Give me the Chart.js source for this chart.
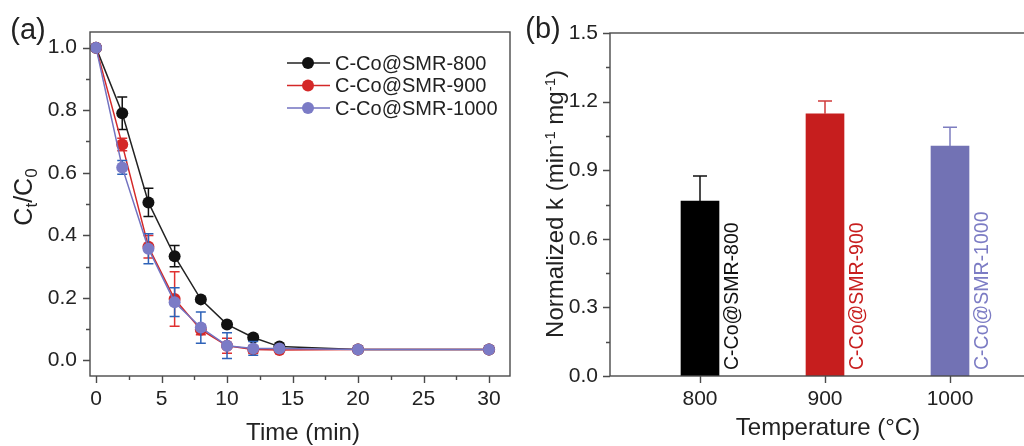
<!DOCTYPE html>
<html>
<head>
<meta charset="utf-8">
<script src="https://cdn.jsdelivr.net/npm/chart.js@4.4.1/dist/chart.umd.min.js"></script>
<style>
  body { margin: 0; width: 1024px; height: 446px; overflow: hidden; position: relative; background: #fff;
         font-family: "Liberation Sans", Arial, sans-serif; color: #222; }
  .panel { position: absolute; top: 0; }
  .txt { position: absolute; white-space: nowrap; line-height: 1; transform: translate(-50%, -50%); }
  .rot { transform: translate(-50%, -50%) rotate(-90deg); }
  .sub { font-size: 0.68em; position: relative; top: 0.32em; }
  .sup { font-size: 0.62em; position: relative; top: -0.55em; }
</style>
</head>
<body>
<div class="panel" style="left:0;width:520px;height:446px"><canvas id="ca" width="520" height="446" style="width:520px;height:446px"></canvas></div>
<div class="panel" style="left:520px;width:540px;height:446px"><canvas id="cb" width="540" height="446" style="width:540px;height:446px"></canvas></div>

<div class="txt" style="left:28px;top:29px;font-size:29px">(a)</div>
<div class="txt" style="left:543px;top:28px;font-size:29px">(b)</div>
<div class="txt" style="left:303px;top:432px;font-size:24px">Time (min)</div>
<div class="txt" style="left:828px;top:427px;font-size:24px">Temperature (°C)</div>
<div class="txt rot" style="left:23px;top:197px;font-size:25px">C<span class="sub">t</span>/C<span class="sub">0</span></div>
<div class="txt rot" style="left:555px;top:204px;font-size:24px">Normalized k (min<span class="sup">-1</span> mg<span class="sup">-1</span>)</div>

<script>
// ---- panel (a): Ct/C0 vs time ----
const times = [0, 2, 4, 6, 8, 10, 12, 14, 20, 30];
const ct800  = [1.0, 0.79, 0.505, 0.333, 0.195, 0.115, 0.073, 0.044, 0.035, 0.035];
const err800 = [0, 0.052, 0.045, 0.034, 0.008, 0.008, 0.008, 0.006, 0.004, 0.004];
const ct900  = [1.0, 0.69, 0.363, 0.196, 0.098, 0.047, 0.035, 0.033, 0.035, 0.035];
const err900 = [0, 0.02, 0.036, 0.087, 0.016, 0.024, 0.012, 0.005, 0.004, 0.004];
const ct1000  = [1.0, 0.617, 0.357, 0.186, 0.105, 0.047, 0.038, 0.038, 0.035, 0.035];
const err1000 = [0, 0.022, 0.048, 0.046, 0.05, 0.041, 0.022, 0.007, 0.004, 0.004];
const seriesNames = ['C-Co@SMR-800', 'C-Co@SMR-900', 'C-Co@SMR-1000'];

const xTicksA = [0, 5, 10, 15, 20, 25, 30];
const xMinorA = [2.5, 7.5, 12.5, 17.5, 22.5, 27.5];
const yTicksA = [0, 0.2, 0.4, 0.6, 0.8, 1.0];
const yMinorA = [0.1, 0.3, 0.5, 0.7, 0.9];

// ---- panel (b): normalized k ----
const temps = [800, 900, 1000];
const kValues = [0.765, 1.147, 1.006];
const kErrors = [0.11, 0.056, 0.082];
const barNames = ['C-Co@SMR-800', 'C-Co@SMR-900', 'C-Co@SMR-1000'];
const yTicksB = [0, 0.3, 0.6, 0.9, 1.2, 1.5];
const yMinorB = [0.15, 0.45, 0.75, 1.05, 1.35];

const FONT = '"Liberation Sans", Arial, sans-serif';
const INK = '#222';
const TICK_SIZE = 21;

/* frame + outward major/minor ticks, drawn through the chart's scales */
const frame = {
  id: 'frame',
  afterDraw(chart, args, o) {
    const { ctx, chartArea: a, scales: { x, y } } = chart;
    ctx.save();
    ctx.strokeStyle = '#4a4a4a';
    ctx.lineWidth = 1.4;
    ctx.strokeRect(a.left, a.top, a.right - a.left, a.bottom - a.top);
    ctx.beginPath();
    const xt = (vals, len) => vals.forEach(v => {
      const p = Math.round(x.getPixelForValue(v)) + 0.5;
      ctx.moveTo(p, a.bottom); ctx.lineTo(p, a.bottom + len);
    });
    const yt = (vals, len) => vals.forEach(v => {
      const p = Math.round(y.getPixelForValue(v)) + 0.5;
      ctx.moveTo(a.left, p); ctx.lineTo(a.left - len, p);
    });
    xt(o.xMajor || [], 7); xt(o.xMinor || [], 4);
    yt(o.yMajor || [], 7); yt(o.yMinor || [], 4);
    ctx.stroke();
    ctx.restore();
  }
};

/* symmetric error bars under each line dataset */
const errorBars = {
  id: 'errorBars',
  beforeDatasetDraw(chart, args, o) {
    const errs = o.errors[args.index];
    if (!errs) return;
    const { ctx, scales: { x, y } } = chart;
    const ds = chart.data.datasets[args.index];
    ctx.save();
    ctx.strokeStyle = o.colors[args.index];
    ctx.lineWidth = 1.5;
    ctx.beginPath();
    ds.data.forEach((d, j) => {
      const e = errs[j];
      if (!e) return;
      const px = x.getPixelForValue(d.x);
      const hi = y.getPixelForValue(d.y + e), lo = y.getPixelForValue(d.y - e);
      ctx.moveTo(px, hi); ctx.lineTo(px, lo);
      ctx.moveTo(px - 5, hi); ctx.lineTo(px + 5, hi);
      ctx.moveTo(px - 5, lo); ctx.lineTo(px + 5, lo);
    });
    ctx.stroke();
    ctx.restore();
  }
};

/* line + marker legend */
const lineLegend = {
  id: 'lineLegend',
  afterDraw(chart, args, o) {
    const ctx = chart.ctx;
    ctx.save();
    chart.data.datasets.forEach((ds, i) => {
      const yy = o.y + i * o.gap;
      ctx.strokeStyle = ds.borderColor;
      ctx.lineWidth = 1.5;
      ctx.beginPath(); ctx.moveTo(o.x, yy); ctx.lineTo(o.x + 43, yy); ctx.stroke();
      ctx.fillStyle = ds.pointBackgroundColor;
      ctx.beginPath(); ctx.arc(o.x + 21, yy, 6, 0, Math.PI * 2); ctx.fill();
      ctx.fillStyle = INK;
      ctx.font = '20px ' + FONT;
      ctx.textBaseline = 'middle';
      ctx.fillText(ds.label, o.x + 48, yy + 1);
    });
    ctx.restore();
  }
};

const fixedTicks = vals => scale => { scale.ticks = vals.map(v => ({ value: v })); };

const mkLine = (label, vals, color, line, order) => ({
  label, order,
  data: times.map((t, j) => ({ x: t, y: vals[j] })),
  borderColor: line, borderWidth: 1.5,
  pointBackgroundColor: color, pointBorderWidth: 0, pointRadius: 6, pointHoverRadius: 6
});

new Chart(document.getElementById('ca'), {
  type: 'line',
  data: {
    datasets: [
      mkLine(seriesNames[0], ct800, '#111111', '#222222', 2),
      mkLine(seriesNames[1], ct900, '#d42828', '#d42828', 1),
      mkLine(seriesNames[2], ct1000, '#7b7bc6', '#7272c0', 0)
    ]
  },
  options: {
    responsive: false, animation: false,
    layout: { padding: { left: 0, top: 32, right: 10, bottom: 0 } },
    plugins: {
      legend: { display: false }, tooltip: { enabled: false },
      frame: { xMajor: xTicksA, xMinor: xMinorA, yMajor: yTicksA, yMinor: yMinorA },
      errorBars: { errors: [err800, err900, err1000], colors: ['#111111', '#e03030', '#2e62b8'] },
      lineLegend: { x: 287, y: 63, gap: 22.5 }
    },
    scales: {
      x: {
        type: 'linear', min: -0.46, max: 31.6,
        grid: { display: false }, border: { display: false },
        afterBuildTicks: fixedTicks(xTicksA),
        afterFit: s => { s.height = 70; },
        ticks: { padding: 3, color: INK, font: { family: FONT, size: TICK_SIZE }, maxRotation: 0 }
      },
      y: {
        type: 'linear', min: -0.05, max: 1.05,
        grid: { display: false }, border: { display: false },
        afterBuildTicks: fixedTicks(yTicksA),
        afterFit: s => { s.width = 90; },
        ticks: { padding: 5, color: INK, font: { family: FONT, size: TICK_SIZE }, callback: v => v.toFixed(1) }
      }
    }
  },
  plugins: [frame, errorBars, lineLegend]
});

/* one-sided error bars and rotated names beside each bar */
const barExtras = {
  id: 'barExtras',
  afterDatasetsDraw(chart, args, o) {
    const { ctx, scales: { y } } = chart;
    const meta = chart.getDatasetMeta(0);
    ctx.save();
    meta.data.forEach((bar, j) => {
      const top = y.getPixelForValue(kValues[j]);
      const end = y.getPixelForValue(kValues[j] + kErrors[j]);
      ctx.strokeStyle = o.errColors[j];
      ctx.lineWidth = 1.5;
      ctx.beginPath();
      ctx.moveTo(bar.x, top); ctx.lineTo(bar.x, end);
      ctx.moveTo(bar.x - 7, end); ctx.lineTo(bar.x + 7, end);
      ctx.stroke();

      ctx.save();
      ctx.translate(bar.x + bar.width / 2 + 19, y.getPixelForValue(0) - 6);
      ctx.rotate(-Math.PI / 2);
      ctx.fillStyle = o.textColors[j];
      ctx.font = '19.5px ' + FONT;
      ctx.textBaseline = 'alphabetic';
      ctx.textAlign = 'left';
      ctx.fillText(barNames[j], 0, 0);
      ctx.restore();
    });
    ctx.restore();
  }
};

new Chart(document.getElementById('cb'), {
  type: 'bar',
  data: {
    datasets: [{
      data: temps.map((t, j) => ({ x: t, y: kValues[j] })),
      backgroundColor: ['#000000', '#c61e1e', '#7272b4'],
      borderWidth: 0,
      barThickness: 38
    }]
  },
  options: {
    responsive: false, animation: false,
    layout: { padding: { left: 0, top: 33, right: 20, bottom: 0 } },
    plugins: {
      legend: { display: false }, tooltip: { enabled: false },
      frame: { xMajor: temps, xMinor: [], yMajor: yTicksB, yMinor: yMinorB },
      barExtras: { errColors: ['#111111', '#d03a3a', '#7d7dc0'], textColors: ['#111111', '#c81e1e', '#7c7cc4'] }
    },
    scales: {
      x: {
        type: 'linear', min: 728, max: 1072, offset: false,
        grid: { display: false }, border: { display: false },
        afterBuildTicks: fixedTicks(temps),
        afterFit: s => { s.height = 70; },
        ticks: { padding: 3, color: INK, font: { family: FONT, size: TICK_SIZE }, maxRotation: 0, callback: v => String(v) }
      },
      y: {
        type: 'linear', min: 0, max: 1.5,
        grid: { display: false }, border: { display: false },
        afterBuildTicks: fixedTicks(yTicksB),
        afterFit: s => { s.width = 90; },
        ticks: { padding: 4, color: INK, font: { family: FONT, size: TICK_SIZE }, callback: v => v.toFixed(1) }
      }
    }
  },
  plugins: [frame, barExtras]
});
</script>
</body>
</html>
